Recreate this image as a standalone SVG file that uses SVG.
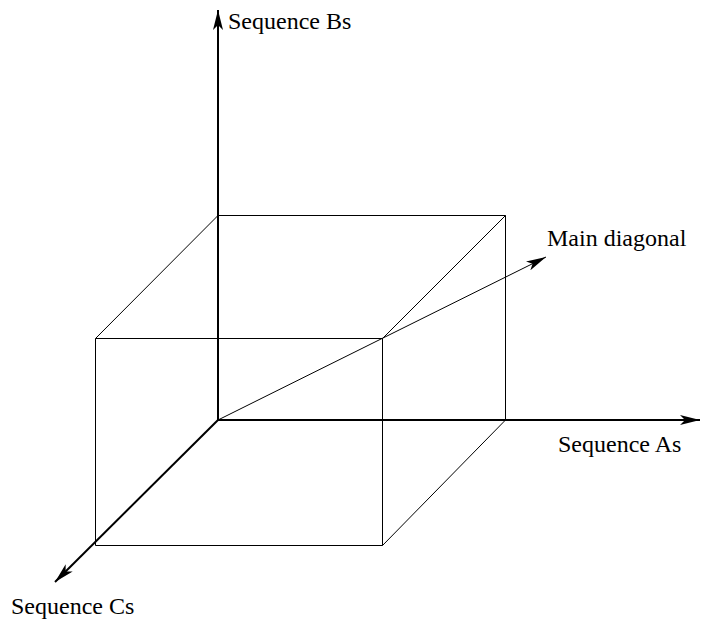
<svg xmlns="http://www.w3.org/2000/svg" width="701" height="622" viewBox="0 0 701 622">
<defs>
<marker id="ah" viewBox="0 0 20 10" refX="20" refY="5" markerWidth="20" markerHeight="10" markerUnits="userSpaceOnUse" orient="auto">
<path d="M0,0 L20,5 L0,10 L5,5 Z" fill="#000"/>
</marker>
</defs>
<style>
.box{stroke:#000;stroke-width:1;fill:none}
.axis{stroke:#000;stroke-width:2;fill:none}
.diag{stroke:#000;stroke-width:1;fill:none}
text{font-family:"Liberation Serif","Times New Roman",serif;font-size:24px;fill:#000}
</style>
<rect width="701" height="622" fill="#fff"/>
<g id="cube">
<path class="box" d="M218,215.5 H505.5 V420 M95.5,338.5 H382.5 V545.5 H95.5 Z M218,215.5 L95.5,338.5 M505.5,215.5 L382.5,338.5 M505.5,420 L382.5,545.5"/>
</g>
<g id="connectors">
<line class="axis" x1="218" y1="420" x2="218" y2="10" marker-end="url(#ah)"/>
<line class="axis" x1="218" y1="420" x2="700" y2="420" marker-end="url(#ah)"/>
<line class="axis" x1="218" y1="420" x2="55" y2="582" marker-end="url(#ah)"/>
<line class="diag" x1="218" y1="420" x2="546" y2="257" marker-end="url(#ah)"/>
</g>
<g id="label-b"><text x="228" y="29">Sequence Bs</text></g>
<g id="label-diag"><text x="547" y="246">Main diagonal</text></g>
<g id="label-a"><text x="558" y="452">Sequence As</text></g>
<g id="label-c"><text x="11" y="614">Sequence Cs</text></g>
</svg>
